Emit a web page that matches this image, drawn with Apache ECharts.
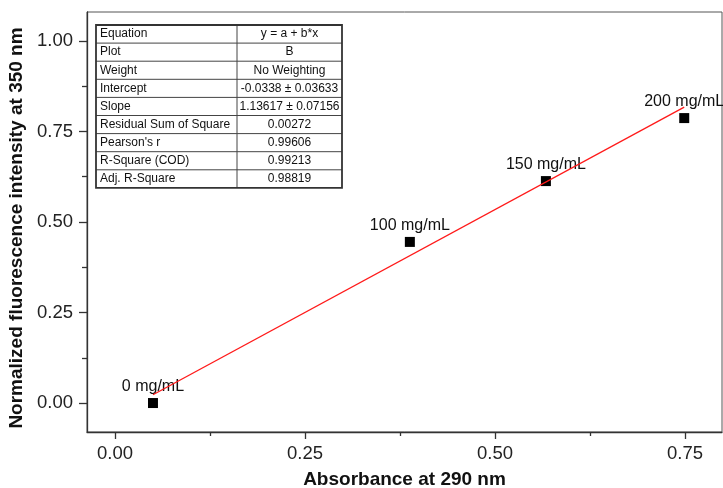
<!DOCTYPE html>
<html>
<head>
<meta charset="utf-8">
<script src="https://cdn.jsdelivr.net/npm/echarts@6/dist/echarts.min.js"></script>
<style>
  html, body { margin: 0; padding: 0; background: #fff; }
  #chart { width: 723px; height: 488px; }
</style>
</head>
<body>
<div id="chart"></div>
<script>
// Calibration points: absorbance vs. normalized fluorescence
const absorbance = [0.050, 0.388, 0.567, 0.749];
const intensity = [0.000, 0.445, 0.613, 0.787];
const pointLabels = ['0 mg/mL', '100 mg/mL', '150 mg/mL', '200 mg/mL'];

// Linear fit parameters
const fitIntercept = -0.0338;
const fitSlope = 1.13617;

// Axis ticks
const xMajorTicks = [0, 0.25, 0.5, 0.75];
const xMinorTicks = [0.125, 0.375, 0.625];
const yMajorTicks = [0, 0.25, 0.5, 0.75, 1.0];
const yMinorTicks = [0.125, 0.375, 0.625, 0.875];

// Fit statistics table
const tableLabels = ['Equation', 'Plot', 'Weight', 'Intercept', 'Slope',
  'Residual Sum of Square', "Pearson's r", 'R-Square (COD)', 'Adj. R-Square'];
const tableValues = ['y = a + b*x', 'B', 'No Weighting', '-0.0338 \u00b1 0.03633',
  '1.13617 \u00b1 0.07156', '0.00272', '0.99606', '0.99213', '0.98819'];

const FONT = '"Liberation Sans", Arial, sans-serif';
const AXIS_COLOR = '#333';

const xFirst = absorbance[0];
const xLast = absorbance[absorbance.length - 1];
const fitLine = [
  [xFirst, fitIntercept + fitSlope * xFirst],
  [xLast, fitIntercept + fitSlope * xLast]
];

// Table drawn as graphic elements
const tbl = { left: 96, top: 25, width: 246, rowH: 18.1, split: 141 };
const tableGraphics = [];
tableLabels.forEach((lab, i) => {
  const y = tbl.top + i * tbl.rowH;
  if (i > 0) {
    tableGraphics.push({
      type: 'line', silent: true,
      shape: { x1: tbl.left, y1: y, x2: tbl.left + tbl.width, y2: y },
      style: { stroke: '#444', lineWidth: 1 }
    });
  }
  tableGraphics.push({
    type: 'text', silent: true,
    x: tbl.left + 4, y: y + tbl.rowH / 2,
    style: { text: lab, font: '12px ' + FONT, fill: '#111', verticalAlign: 'middle', align: 'left' }
  });
  tableGraphics.push({
    type: 'text', silent: true,
    x: tbl.left + tbl.split + (tbl.width - tbl.split) / 2, y: y + tbl.rowH / 2,
    style: { text: tableValues[i], font: '12px ' + FONT, fill: '#111', verticalAlign: 'middle', align: 'center' }
  });
});
tableGraphics.push({
  type: 'line', silent: true,
  shape: { x1: tbl.left + tbl.split, y1: tbl.top, x2: tbl.left + tbl.split, y2: tbl.top + tbl.rowH * tableLabels.length },
  style: { stroke: '#444', lineWidth: 1 }
});
tableGraphics.push({
  type: 'rect', silent: true,
  shape: { x: tbl.left, y: tbl.top, width: tbl.width, height: tbl.rowH * tableLabels.length },
  style: { fill: 'none', stroke: '#333', lineWidth: 1.8 }
});

const xMin = -0.0368, xMax = 0.7987;
const yMin = -0.08, yMax = 1.08;

const fmt = v => Number(v).toFixed(2);

const chart = echarts.init(document.getElementById('chart'), null, { renderer: 'canvas' });
chart.setOption({
  animation: false,
  backgroundColor: '#fff',
  textStyle: { fontFamily: FONT },
  grid: {
    left: 87, top: 12, right: 1, bottom: 56,
    containLabel: false, outerBoundsMode: 'none',
    show: true, borderColor: '#555', borderWidth: 1, backgroundColor: 'transparent'
  },
  xAxis: [{
    type: 'value', position: 'bottom', min: xMin, max: xMax,
    name: 'Absorbance at 290 nm', nameLocation: 'middle', nameGap: 38,
    nameTextStyle: { fontSize: 19, fontWeight: 'bold', color: '#111', fontFamily: FONT },
    axisLine: { show: true, onZero: false, lineStyle: { color: AXIS_COLOR, width: 1.3 } },
    axisTick: { show: true, inside: false, length: 7, customValues: xMajorTicks, lineStyle: { color: AXIS_COLOR, width: 1.3 } },
    axisLabel: { show: true, customValues: xMajorTicks, formatter: fmt, fontSize: 18.5, color: '#222', margin: 12, fontFamily: FONT },
    splitLine: { show: false }
  }, {
    type: 'value', position: 'bottom', min: xMin, max: xMax,
    axisLine: { show: false, onZero: false },
    axisTick: { show: true, inside: false, length: 4, customValues: xMinorTicks, lineStyle: { color: AXIS_COLOR, width: 1.3 } },
    axisLabel: { show: false },
    splitLine: { show: false }
  }],
  yAxis: [{
    type: 'value', position: 'left', min: yMin, max: yMax,
    name: 'Normalized fluorescence intensity at 350 nm', nameLocation: 'middle', nameGap: 56,
    nameTextStyle: { fontSize: 19, fontWeight: 'bold', color: '#111', fontFamily: FONT, padding: [0, 12, 0, 0] },
    axisLine: { show: true, onZero: false, lineStyle: { color: AXIS_COLOR, width: 1.3 } },
    axisTick: { show: true, inside: false, length: 8, customValues: yMajorTicks, lineStyle: { color: AXIS_COLOR, width: 1.3 } },
    axisLabel: { show: true, customValues: yMajorTicks, formatter: fmt, fontSize: 18.5, color: '#222', margin: 14, fontFamily: FONT },
    splitLine: { show: false }
  }, {
    type: 'value', position: 'left', min: yMin, max: yMax,
    axisLine: { show: false, onZero: false },
    axisTick: { show: true, inside: false, length: 5, customValues: yMinorTicks, lineStyle: { color: AXIS_COLOR, width: 1.3 } },
    axisLabel: { show: false },
    splitLine: { show: false }
  }],
  series: [{
    type: 'scatter',
    xAxisIndex: 0, yAxisIndex: 0,
    symbol: 'rect', symbolSize: 10,
    itemStyle: { color: '#000', opacity: 1 },
    data: absorbance.map((x, i) => ({ value: [x, intensity[i]], name: pointLabels[i] })),
    label: {
      show: true, position: 'top', distance: 3,
      formatter: p => p.name,
      fontSize: 16, color: '#111', fontFamily: FONT
    },
    emphasis: { disabled: true },
    z: 3
  }, {
    type: 'line',
    xAxisIndex: 0, yAxisIndex: 0,
    data: fitLine,
    showSymbol: false, symbol: 'none',
    lineStyle: { color: '#ff1a1a', width: 1.3 },
    z: 4
  }],
  graphic: tableGraphics
});
</script>
</body>
</html>
